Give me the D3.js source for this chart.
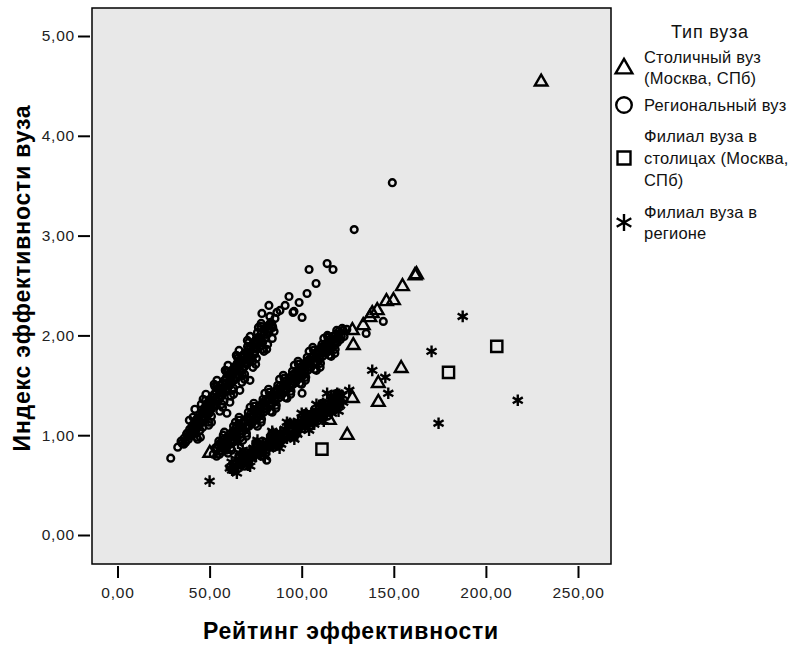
<!DOCTYPE html>
<html lang="ru">
<head>
<meta charset="UTF-8">
<title>Индекс эффективности вуза</title>
<style>
  body { margin: 0; background: #fff; }
  text { font-family: "Liberation Sans", Arial, sans-serif; }
</style>
</head>
<body>
<div id="chart"></div>
<script src="https://cdnjs.cloudflare.com/ajax/libs/d3/7.8.5/d3.min.js"></script>
<script>
const WIDTH = 801;
const HEIGHT = 645;
const FRAME = { left: 92, top: 8, right: 611, bottom: 564 };

const X_TICKS = [0, 50, 100, 150, 200, 250];
const Y_TICKS = [0, 1, 2, 3, 4, 5];
const X_TITLE = "Рейтинг эффективности";
const Y_TITLE = "Индекс эффективности вуза";
const LEGEND_TITLE = "Тип вуза";
const CATEGORIES = ["capital", "regional", "branchCapital", "branchRegion"];
const CATEGORY_LABELS = [
    ["Столичный вуз", "(Москва, СПб)"],
    ["Региональный вуз"],
    ["Филиал вуза в", "столицах (Москва,", "СПб)"],
    ["Филиал вуза в", "регионе"]
];

// Столичный вуз (Москва, СПб)
const capital = [
    [50.1,0.82],[115.0,1.15],[124.7,1.00],[127.5,1.37],[128.0,1.90],[127.5,2.05],
    [133.4,2.10],[137.0,2.18],[138.3,2.22],[141.0,2.25],[141.6,1.52],[141.6,1.33],
    [146.0,2.34],[149.8,2.35],[154.0,1.67],[154.7,2.49],[161.5,2.60],[162.3,2.61],
    [230.0,4.54]
];

// Региональный вуз
const regional = [
    // upper band
    [28.9,0.77],[32.7,0.88],[35.0,0.92],[36.2,0.97],[37.0,0.93],[37.8,1.02],[38.5,0.96],[39.2,1.06],
    [40.0,1.00],[40.6,1.10],[41.3,1.03],[42.0,1.13],[42.6,1.05],[43.3,1.17],[44.0,1.09],[44.5,1.20],
    [45.2,1.12],[45.8,1.23],[46.4,1.15],[47.0,1.27],[47.5,1.18],[48.1,1.30],[48.7,1.20],[49.2,1.33],
    [49.8,1.22],[50.3,1.36],[50.9,1.26],[51.4,1.38],[52.0,1.29],[52.5,1.41],[53.1,1.31],[53.6,1.44],
    [54.2,1.34],[54.7,1.47],[55.3,1.36],[55.8,1.50],[56.4,1.39],[57.0,1.52],[57.5,1.42],[58.1,1.55],
    [58.7,1.44],[59.2,1.58],[59.8,1.47],[60.4,1.61],[61.0,1.50],[61.5,1.64],[62.1,1.53],[62.7,1.66],
    [63.3,1.55],[63.9,1.69],[64.5,1.58],[65.0,1.72],[65.6,1.61],[66.2,1.75],[66.8,1.63],[67.4,1.78],
    [68.0,1.66],[68.6,1.81],[69.2,1.69],[69.8,1.83],[70.4,1.72],[71.0,1.86],[71.6,1.75],[72.3,1.89],
    [73.0,1.78],[73.7,1.92],[74.4,1.81],[75.1,1.95],[75.8,1.86],[76.5,1.98],[77.3,1.89],[78.0,2.02],
    [78.8,1.93],[79.6,2.06],[80.4,1.98],[81.3,2.09],[82.2,2.03],[83.2,2.13],[84.3,2.08],[85.5,2.17],
    [38.0,0.99],[40.3,1.05],[42.3,1.09],[44.2,1.14],[46.1,1.19],[48.0,1.24],[49.9,1.28],[51.7,1.33],
    [53.5,1.37],[55.4,1.42],[57.2,1.46],[59.0,1.51],[60.8,1.55],[62.6,1.60],[64.4,1.64],[66.2,1.69],
    [68.1,1.74],[70.0,1.78],[71.9,1.83],[73.8,1.87],[75.6,1.92],[77.5,1.96],[79.5,2.01],[81.7,2.06],
    [83.8,2.11],
    [41.0,1.18],[44.8,1.05],[47.8,1.35],[51.0,1.19],[54.0,1.49],[57.8,1.34],[60.0,1.64],[63.0,1.47],
    [65.4,1.77],[67.8,1.60],[70.6,1.89],[73.4,1.74],[76.0,2.03],[79.0,1.86],[82.7,2.19],
    [39.0,1.15],[45.5,1.31],[49.5,1.13],[52.8,1.49],[56.6,1.31],[58.9,1.64],[62.3,1.45],[64.8,1.79],
    [69.0,1.61],[71.2,1.93],[75.4,1.77],[77.8,2.09],[81.5,1.91],[85.0,2.04],[86.5,2.23],
    [34.5,0.94],[36.0,0.91],[37.5,1.01],[39.0,0.99],[40.5,1.08],[42.0,1.06],[43.5,1.16],[45.0,1.13],
    [46.5,1.23],[48.0,1.21],[49.5,1.30],[51.0,1.28],[52.5,1.38],[54.0,1.35],[55.5,1.45],[57.0,1.43],
    [58.5,1.52],[60.0,1.50],[61.5,1.60],[63.0,1.57],[64.5,1.67],[66.0,1.65],[67.5,1.74],[69.0,1.72],
    [70.5,1.82],[72.0,1.79],[73.5,1.89],[75.0,1.87],[76.5,1.96],[78.0,1.94],[79.5,2.03],[81.0,2.01],
    [82.5,2.11],[84.0,2.09],
    [42.0,1.26],[45.0,0.98],[48.0,1.41],[51.0,1.13],[54.0,1.55],[57.0,1.28],[60.0,1.70],[63.0,1.41],
    [66.0,1.85],[69.0,1.56],[72.0,1.99],[75.0,1.71],[78.0,2.12],[81.0,1.86],[84.0,1.97],
    [43.5,0.96],[46.5,1.36],[49.5,1.10],[52.5,1.51],[55.5,1.24],[58.5,1.65],[61.5,1.39],[64.5,1.80],
    [67.5,1.53],[70.5,1.95],[73.5,1.68],[76.5,2.08],[79.5,1.84],
    [78.4,2.22],[82.2,2.30],[88.2,2.25],[91.0,2.30],[93.1,2.39],[95.3,2.23],[95.8,2.24],[98.6,2.33],
    [100.2,2.18],[102.9,2.42],[107.8,2.52],[104.0,2.66],[113.8,2.72],[117.0,2.66],[128.5,3.06],[149.2,3.53],
    [71.9,1.55],[66.4,1.45],[61.0,1.33],[59.4,1.22],[46.3,1.08],[43.0,0.98],[100.2,1.42],
    // middle band
    [53.0,0.87],[53.8,0.79],[54.6,0.90],[55.4,0.81],[56.2,0.93],[57.0,0.84],[57.8,0.96],[58.6,0.87],
    [59.4,0.98],[60.2,0.90],[61.0,1.01],[61.8,0.93],[62.6,1.04],[63.4,0.95],[64.2,1.07],[65.0,0.98],
    [65.8,1.10],[66.6,1.01],[67.4,1.12],[68.2,1.04],[69.0,1.15],[69.8,1.07],[70.6,1.18],[71.4,1.09],
    [72.2,1.21],[73.0,1.12],[73.8,1.24],[74.6,1.15],[75.4,1.26],[76.2,1.18],[77.0,1.29],[77.8,1.20],
    [78.6,1.32],[79.4,1.23],[80.2,1.35],[81.0,1.26],[81.8,1.37],[82.6,1.29],[83.4,1.40],[84.2,1.32],
    [85.0,1.43],[85.8,1.34],[86.6,1.46],[87.4,1.37],[88.2,1.49],[89.0,1.40],[89.8,1.51],[90.6,1.43],
    [91.4,1.54],[92.2,1.46],[93.0,1.57],[93.8,1.48],[94.6,1.60],[95.4,1.51],[96.2,1.62],[97.0,1.54],
    [97.8,1.65],[98.6,1.57],[99.4,1.68],[100.2,1.59],[101.0,1.71],[101.8,1.62],[102.6,1.74],[103.4,1.65],
    [104.2,1.76],[105.0,1.68],[105.8,1.79],[106.6,1.71],[107.4,1.82],[108.2,1.73],[109.0,1.85],[109.8,1.76],
    [110.6,1.88],[111.4,1.79],[112.2,1.90],[113.0,1.82],[113.8,1.93],[114.6,1.84],[115.4,1.96],[116.2,1.87],
    [117.0,1.99],[117.8,1.90],[118.6,2.01],[119.4,1.93],[120.2,2.04],[121.0,1.96],[122.0,2.07],[123.0,1.99],
    [52.0,0.81],[56.0,0.88],[60.0,0.95],[64.0,1.02],[68.0,1.08],[72.0,1.15],[76.0,1.22],[80.0,1.29],
    [84.0,1.36],[88.0,1.43],[92.0,1.50],[96.0,1.57],[100.0,1.64],[104.0,1.71],[108.0,1.78],[112.0,1.85],
    [116.0,1.92],[120.0,1.99],
    [55.0,0.94],[59.0,0.85],[63.0,1.09],[67.0,0.98],[71.0,1.23],[75.0,1.11],[79.0,1.36],[83.0,1.24],
    [87.0,1.50],[91.0,1.38],[95.0,1.64],[99.0,1.52],[103.0,1.78],[107.0,1.66],[111.0,1.91],[115.0,1.80],
    [119.0,2.05],[122.5,2.05],[124.5,2.06],[135.0,2.02],[144.3,2.14],
    [57.4,1.00],[61.5,0.87],[66.0,1.15],[70.0,1.02],[74.2,1.29],[78.2,1.16],[82.4,1.43],[86.2,1.30],
    [90.4,1.57],[94.2,1.44],[98.2,1.71],[102.2,1.58],[106.4,1.85],[110.2,1.72],[114.2,1.98],[118.2,1.86],
    [54.0,0.87],[55.5,0.84],[57.0,0.92],[58.5,0.89],[60.0,0.97],[61.5,0.95],[63.0,1.02],[64.5,1.00],
    [66.0,1.07],[67.5,1.05],[69.0,1.13],[70.5,1.10],[72.0,1.18],[73.5,1.15],[75.0,1.23],[76.5,1.21],
    [78.0,1.28],[79.5,1.26],[81.0,1.34],[82.5,1.31],[84.0,1.39],[85.5,1.36],[87.0,1.44],[88.5,1.42],
    [90.0,1.49],[91.5,1.47],[93.0,1.54],[94.5,1.52],[96.0,1.60],[97.5,1.57],[99.0,1.65],[100.5,1.62],
    [102.0,1.70],[103.5,1.68],[105.0,1.75],[106.5,1.73],[108.0,1.81],[109.5,1.78],[111.0,1.86],[112.5,1.83],
    [114.0,1.91],[115.5,1.89],[117.0,1.96],[118.5,1.94],[120.0,2.01],[121.5,1.99],
    [58.0,1.03],[62.0,0.85],[66.0,1.18],[70.0,0.99],[74.0,1.32],[78.0,1.13],[82.0,1.46],[86.0,1.27],
    [90.0,1.60],[94.0,1.41],[98.0,1.74],[102.0,1.55],[106.0,1.88],[110.0,1.68],[114.0,2.00],[118.0,1.82],
    [60.0,0.82],[64.0,1.13],[68.0,0.95],[72.0,1.28],[76.0,1.09],[80.0,1.42],[84.0,1.23],[88.0,1.56],
    [92.0,1.37],[96.0,1.70],[100.0,1.51],[104.0,1.84],[108.0,1.65],[112.0,1.97],[116.0,1.79],
    // lower band
    [61.0,0.68],[64.0,0.71],[67.0,0.74],[70.0,0.78],[73.0,0.81],[76.0,0.84],[79.0,0.88],[82.0,0.91],
    [85.0,0.94],[88.0,0.98],[91.0,1.01],[94.0,1.05],[97.0,1.08],[100.0,1.11],[103.0,1.15],[106.0,1.18],
    [109.0,1.22],[112.0,1.25],[115.0,1.28],[118.0,1.32],[121.0,1.35],
    [66.0,0.80],[69.0,0.69],[75.0,0.92],[78.0,0.79],[84.0,1.01],[87.0,0.89],[93.0,1.12],[96.0,0.99],
    [102.0,1.22],[105.0,1.09],[111.0,1.32],[114.0,1.19],[119.0,1.42],[81.0,0.75]
];

// Филиал вуза в столицах (Москва, СПб)
const branchCapital = [
    [111.0,0.86],[179.7,1.63],[205.9,1.89]
];

// Филиал вуза в регионе
const branchRegion = [
    [62.0,0.73],[63.2,0.66],[64.4,0.76],[65.6,0.68],[66.8,0.79],[68.0,0.71],[69.2,0.82],[70.4,0.73],
    [71.6,0.84],[72.8,0.76],[74.0,0.87],[75.2,0.79],[76.4,0.90],[77.6,0.81],[78.8,0.92],[80.0,0.84],
    [81.2,0.95],[82.4,0.86],[83.6,0.98],[84.8,0.89],[86.0,1.01],[87.2,0.92],[88.4,1.03],[89.6,0.95],
    [90.8,1.06],[92.0,0.97],[93.2,1.09],[94.4,1.00],[95.6,1.11],[96.8,1.02],[98.0,1.14],[99.2,1.05],
    [100.4,1.17],[101.6,1.08],[102.8,1.19],[104.0,1.11],[105.2,1.22],[106.4,1.13],[107.6,1.25],[108.8,1.16],
    [110.0,1.28],[111.2,1.19],[112.4,1.30],[113.6,1.21],[114.8,1.33],[116.0,1.24],[117.2,1.36],[118.4,1.27],
    [119.6,1.38],[120.8,1.30],[122.0,1.40],
    [66.5,0.82],[70.8,0.70],[75.6,0.92],[79.6,0.80],[84.4,1.02],[88.8,0.91],[93.6,1.12],[97.6,1.01],
    [102.4,1.22],[106.8,1.11],[111.6,1.32],[116.4,1.22],[120.4,1.41],
    [63.0,0.70],[64.6,0.69],[66.2,0.76],[67.8,0.73],[69.4,0.80],[71.0,0.76],[72.6,0.83],[74.2,0.80],
    [75.8,0.87],[77.4,0.83],[79.0,0.91],[80.6,0.87],[82.2,0.94],[83.8,0.90],[85.4,0.98],[87.0,0.94],
    [88.6,1.01],[90.2,0.97],[91.8,1.05],[93.4,1.01],[95.0,1.09],[96.6,1.05],[98.2,1.12],[99.8,1.08],
    [101.4,1.16],[103.0,1.12],[104.6,1.19],[106.2,1.15],[107.8,1.23],[109.4,1.19],[111.0,1.27],[112.6,1.23],
    [114.2,1.30],[115.8,1.26],[117.4,1.34],[119.0,1.30],[120.6,1.37],
    [68.0,0.85],[72.0,0.69],[76.0,0.95],[80.0,0.78],[84.0,1.04],[88.0,0.87],[92.0,1.13],[96.0,0.96],
    [100.0,1.22],[104.0,1.05],[108.0,1.31],[112.0,1.14],[116.0,1.39],[120.0,1.24],
    [50.0,0.54],[61.0,0.67],[62.2,0.65],[64.8,0.62],[70.3,0.78],[63.7,0.97],[65.4,0.92],
    [113.8,1.42],[119.3,1.42],[122.5,1.33],[125.8,1.45],[138.3,1.65],[145.4,1.58],[147.0,1.42],
    [170.5,1.84],[174.3,1.12],[187.4,2.19],[217.3,1.35]
];

const SERIES = [capital, regional, branchCapital, branchRegion];
const SYMBOLS = [d3.symbolTriangle2, d3.symbolCircle, d3.symbolSquare2, d3.symbolAsterisk];
const PLOT_SIZES = [115, 36, 160, 95];
const LEGEND_SIZES = [200, 190, 215, 200];

const comma = d => d3.format(".2f")(d).replace(".", ",");

const x = d3.scaleLinear().domain([0, 250]).range([117.5, 578]);
const y = d3.scaleLinear().domain([0, 5]).range([535, 36]);

const svg = d3.select("#chart")
    .append("svg")
    .attr("width", WIDTH)
    .attr("height", HEIGHT)
    .style("display", "block");

svg.append("rect")
    .attr("x", FRAME.left)
    .attr("y", FRAME.top)
    .attr("width", FRAME.right - FRAME.left)
    .attr("height", FRAME.bottom - FRAME.top)
    .attr("fill", "#e8e8e8")
    .attr("stroke", "#000")
    .attr("stroke-width", 1.5);

const xAxis = svg.append("g")
    .attr("transform", `translate(0, ${FRAME.bottom + 2})`)
    .call(d3.axisBottom(x).tickValues(X_TICKS).tickFormat(comma).tickSize(12).tickPadding(9));

const yAxis = svg.append("g")
    .attr("transform", `translate(${FRAME.left - 2}, 0)`)
    .call(d3.axisLeft(y).tickValues(Y_TICKS).tickFormat(comma).tickSize(12).tickPadding(3));

[xAxis, yAxis].forEach(g => {
    g.select(".domain").remove();
    g.selectAll(".tick line").attr("stroke", "#000").attr("stroke-width", 2);
    g.selectAll(".tick text")
        .attr("fill", "#222")
        .attr("font-size", null)
        .style("font-size", "15.5px")
        .style("letter-spacing", "0.8px")
        .style("font-family", "'Liberation Sans', Arial, sans-serif");
});

svg.append("text")
    .attr("x", 351)
    .attr("y", 639)
    .attr("text-anchor", "middle")
    .style("font-size", "23px")
    .style("font-weight", "bold")
    .style("letter-spacing", "0.8px")
    .text(X_TITLE);

svg.append("text")
    .attr("transform", "translate(30, 278) rotate(-90)")
    .attr("text-anchor", "middle")
    .style("font-size", "23px")
    .style("font-weight", "bold")
    .style("letter-spacing", "0.8px")
    .text(Y_TITLE);

// points
const plot = svg.append("g");
SERIES.forEach((data, i) => {
    const sym = d3.symbol().type(SYMBOLS[i]).size(PLOT_SIZES[i]);
    plot.append("g")
        .selectAll("path")
        .data(data)
        .enter()
        .append("path")
        .attr("d", sym)
        .attr("transform", d => `translate(${x(d[0])}, ${y(d[1])})`)
        .attr("fill", "none")
        .attr("stroke", "#000")
        .attr("stroke-width", 2.4);
});

// legend
const legend = svg.append("g");
legend.append("text")
    .attr("x", 710)
    .attr("y", 38)
    .attr("text-anchor", "middle")
    .style("font-size", "18px")
    .style("letter-spacing", "0.8px")
    .attr("fill", "#111")
    .text(LEGEND_TITLE);

const LEGEND_BASELINES = [[63, 84], [111], [142, 164, 186], [218, 239]];
CATEGORIES.forEach((c, i) => {
    const lines = CATEGORY_LABELS[i];
    const bases = LEGEND_BASELINES[i];
    const my = d3.mean(bases) - 6;
    legend.append("path")
        .attr("d", d3.symbol().type(SYMBOLS[i]).size(LEGEND_SIZES[i]))
        .attr("transform", `translate(624, ${my + (i === 0 ? 1 : 0)})`)
        .attr("fill", "none")
        .attr("stroke", "#000")
        .attr("stroke-width", 2.4);
    lines.forEach((t, j) => {
        legend.append("text")
            .attr("x", 644)
            .attr("y", bases[j])
            .style("font-size", "16.5px")
            .style("letter-spacing", "0.2px")
            .attr("fill", "#111")
            .text(t);
    });
});
</script>
</body>
</html>
